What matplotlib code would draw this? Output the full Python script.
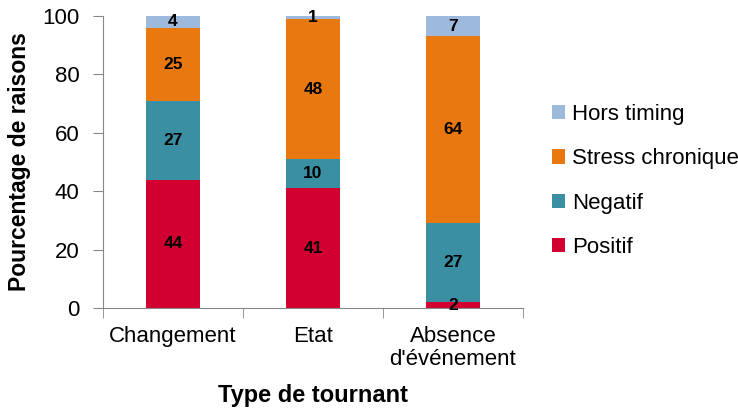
import numpy as np
import matplotlib
matplotlib.use('Agg')
import matplotlib.pyplot as plt

plt.rcParams['font.family'] = ['Liberation Sans', 'DejaVu Sans']

# données
categories = ['Changement', 'Etat', 'Absence\nd\'événement']
series = ['Positif', 'Negatif', 'Stress chronique', 'Hors timing']
positif = [44, 41, 2]
negatif = [27, 10, 27]
stress = [25, 48, 64]
hors = [4, 1, 7]
colors = ['#D20030', '#3A8FA3', '#E8780F', '#9DB9DC']

fig = plt.figure(figsize=(7.38, 4.11), dpi=100)
ax = fig.add_axes([103 / 738, 1 - 308 / 411, 420 / 738, 292 / 411])

x = np.arange(len(categories))
bottom = np.zeros(len(categories))
handles = []
for name, vals, c in zip(series, [positif, negatif, stress, hors], colors):
    vals = np.array(vals, dtype=float)
    b = ax.bar(x, vals, 0.39, bottom=bottom, color=c, label=name)
    handles.append(b)
    for xi, v, bt in zip(x, vals, bottom):
        ax.text(xi, bt + v / 2, '%d' % v, ha='center', va='center',
                fontsize=12.5, fontweight='bold', color='black')
    bottom += vals

ax.set_xlim(-0.5, 2.5)
ax.set_ylim(0, 100)
ax.set_yticks([0, 20, 40, 60, 80, 100])
ax.set_xticks(x)
ax.set_xticklabels(categories, fontsize=16, linespacing=1.1)
ax.set_xticks([-0.5, 0.5, 1.5, 2.5], minor=True)
ax.tick_params(axis='x', which='major', length=0, pad=13)
ax.tick_params(axis='x', which='minor', length=7, color='#888888')
ax.tick_params(axis='y', labelsize=16, length=7, color='#888888', pad=10)
for s in ['top', 'right']:
    ax.spines[s].set_visible(False)
for s in ['left', 'bottom']:
    ax.spines[s].set_color('#888888')

ax.set_ylabel('Pourcentage de raisons', fontsize=16.5, fontweight='bold', labelpad=8)
ax.set_xlabel('Type de tournant', fontsize=17, fontweight='bold', labelpad=10)

leg = fig.legend(handles[::-1], series[::-1], loc='center left',
                 bbox_to_anchor=(532 / 738, 1 - 181 / 411), frameon=False,
                 fontsize=16, handlelength=0.6, handleheight=0.6,
                 handletextpad=0.3, labelspacing=1.05)

fig.savefig('out.png', dpi=100)
